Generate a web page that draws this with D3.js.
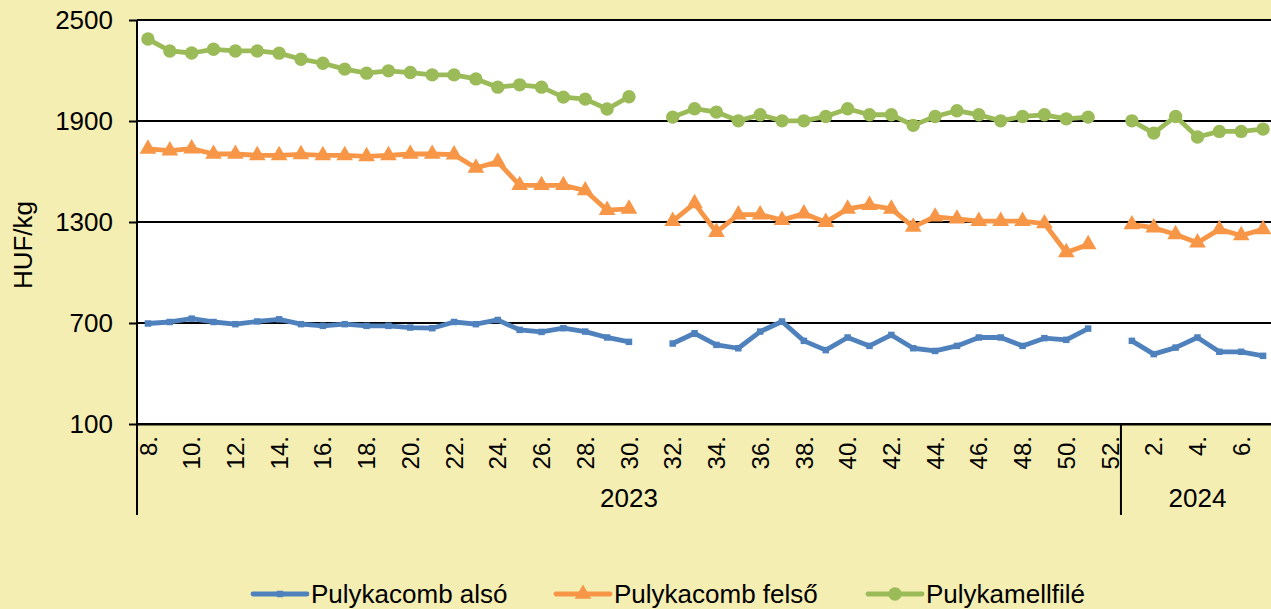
<!DOCTYPE html>
<html>
<head>
<meta charset="utf-8">
<script src="https://cdn.jsdelivr.net/npm/d3@7"></script>
<style>
  body { margin: 0; background: #f4eeb3; }
  svg { display: block; font-family: "Liberation Sans", Arial, sans-serif; }
</style>
</head>
<body>
<div id="chart"></div>
<script>
// weeks: 2023 week 8..52, then 2024 week 1..7
const weeks2023 = d3.range(8, 53);
const weeks2024 = d3.range(1, 8);

const also = [697, 706, 726, 706, 693, 709, 722, 693, 683, 693, 683, 683, 673, 669, 706, 693, 718, 659, 647, 669, 649, 614, 588, null,
  578, 639, 570, 550, 649, 709, 594, 539, 614, 564, 629, 550, 534, 564, 614, 614, 564, 610, 600, 667, null,
  594, 515, 554, 614, 529, 529, 505];
const felso = [1734, 1724, 1736, 1704, 1704, 1696, 1696, 1702, 1696, 1696, 1690, 1696, 1704, 1704, 1700, 1621, 1657, 1518, 1518, 1518, 1487, 1370, 1378, null,
  1305, 1410, 1240, 1344, 1344, 1311, 1350, 1299, 1378, 1400, 1378, 1271, 1331, 1319, 1305, 1305, 1305, 1291, 1119, 1167, null,
  1285, 1266, 1226, 1177, 1256, 1220, 1256];
const mellfile = [2387, 2316, 2304, 2326, 2316, 2316, 2303, 2267, 2243, 2208, 2184, 2198, 2188, 2174, 2174, 2150, 2101, 2115, 2101, 2042, 2030, 1971, 2044, null,
  1923, 1973, 1953, 1901, 1937, 1901, 1901, 1927, 1973, 1937, 1937, 1874, 1927, 1961, 1937, 1901, 1927, 1937, 1913, 1923, null,
  1901, 1828, 1927, 1805, 1838, 1838, 1852];

const yTicks = [100, 700, 1300, 1900, 2500];
const years = ['2023', '2024'];
const seriesNames = ['Pulykacomb alsó', 'Pulykacomb felső', 'Pulykamellfilé'];
const colors = ['#4f81bd', '#f79646', '#9bbb59'];

const categories = weeks2023.map(w => ({ key: '2023-' + w, week: w }))
  .concat(weeks2024.map(w => ({ key: '2024-' + w, week: w })));

const width = 1271;
const height = 609;
const margin = { top: 20, left: 137, bottomPlot: 424 };

const svg = d3.select('#chart')
  .append('svg')
  .attr('width', width)
  .attr('height', height);

const xScale = d3.scaleBand()
  .domain(categories.map(d => d.key))
  .range([margin.left, 1274]);
const yScale = d3.scaleLinear()
  .domain([100, 2500])
  .range([margin.bottomPlot, margin.top]);

// plot area
svg.append('rect')
  .attr('x', margin.left)
  .attr('y', margin.top)
  .attr('width', width - margin.left)
  .attr('height', margin.bottomPlot - margin.top)
  .attr('fill', '#fff');

// gridlines
svg.append('g')
  .selectAll('line')
  .data(yTicks)
  .enter()
  .append('line')
  .attr('x1', margin.left)
  .attr('x2', width)
  .attr('y1', d => yScale(d))
  .attr('y2', d => yScale(d))
  .attr('stroke', '#000')
  .attr('stroke-width', 2);

// y axis
const yAxis = d3.axisLeft(yScale)
  .tickValues(yTicks)
  .tickSize(8)
  .tickPadding(16)
  .tickFormat(d3.format('d'));

const yG = svg.append('g')
  .attr('transform', `translate(${margin.left},0)`)
  .call(yAxis);
yG.select('.domain').remove();
yG.selectAll('.tick line').attr('stroke', '#000').attr('stroke-width', 2);
yG.selectAll('.tick text')
  .attr('font-size', 26)
  .attr('fill', '#000')
  .attr('font-family', '"Liberation Sans", Arial, sans-serif');

// left axis line, extended down through the category area
svg.append('line')
  .attr('x1', margin.left).attr('x2', margin.left)
  .attr('y1', margin.top).attr('y2', 515)
  .attr('stroke', '#000').attr('stroke-width', 2);

// x axis
const xAxis = d3.axisBottom(xScale)
  .tickValues(categories.filter((d, i) => i % 2 === 0).map(d => d.key))
  .tickSize(0)
  .tickFormat(k => k.split('-')[1] + '.');

const xG = svg.append('g')
  .attr('transform', `translate(0,${margin.bottomPlot})`)
  .call(xAxis);
xG.select('.domain').attr('stroke', '#000').attr('stroke-width', 2);
xG.selectAll('.tick text')
  .attr('font-size', 24)
  .attr('fill', '#000')
  .attr('font-family', '"Liberation Sans", Arial, sans-serif')
  .attr('text-anchor', 'end')
  .attr('transform', 'rotate(-90)')
  .attr('x', -12)
  .attr('y', 0)
  .attr('dy', '0.36em');

// year separator and labels
const split = xScale('2024-1');
svg.append('line')
  .attr('x1', split).attr('x2', split)
  .attr('y1', margin.bottomPlot).attr('y2', 515)
  .attr('stroke', '#000').attr('stroke-width', 2);

const yearSpans = [[margin.left, split], [split, xScale.range()[1]]];
svg.selectAll('.year')
  .data(years)
  .enter()
  .append('text')
  .classed('year', true)
  .attr('x', (d, i) => (yearSpans[i][0] + yearSpans[i][1]) / 2)
  .attr('y', 507)
  .attr('text-anchor', 'middle')
  .attr('font-size', 26)
  .text(d => d);

// y label
svg.append('text')
  .attr('transform', 'translate(32,245) rotate(-90)')
  .attr('text-anchor', 'middle')
  .attr('font-size', 26)
  .text('HUF/kg');

// series
const xPos = i => xScale(categories[i].key) + xScale.bandwidth() / 2;
const line = d3.line()
  .defined(d => d != null)
  .x((d, i) => xPos(i))
  .y(d => yScale(d));

const allSeries = [also, felso, mellfile];
const symbols = [d3.symbolSquare, d3.symbolTriangle, d3.symbolCircle];
const symbolSizes = [42, 120, 140];

allSeries.forEach((vals, s) => {
  const g = svg.append('g');
  g.append('path')
    .datum(vals)
    .attr('fill', 'none')
    .attr('stroke', colors[s])
    .attr('stroke-width', 4.8)
    .attr('stroke-linejoin', 'round')
    .attr('d', line);
  g.selectAll('.pt')
    .data(vals.map((v, i) => ({ v, i })).filter(d => d.v != null))
    .enter()
    .append('path')
    .classed('pt', true)
    .attr('transform', d => `translate(${xPos(d.i)},${yScale(d.v)})`)
    .attr('d', d3.symbol().type(symbols[s]).size(symbolSizes[s]))
    .attr('fill', colors[s]);
});

// legend
const legendX = [253, 556, 868];
const legend = svg.append('g');
seriesNames.forEach((name, s) => {
  const lx = legendX[s];
  legend.append('line')
    .attr('x1', lx).attr('x2', lx + 54)
    .attr('y1', 594).attr('y2', 594)
    .attr('stroke', colors[s])
    .attr('stroke-width', 4.8)
    .attr('stroke-linecap', 'round');
  legend.append('path')
    .attr('transform', `translate(${lx + 27},594)`)
    .attr('d', d3.symbol().type(symbols[s]).size(symbolSizes[s]))
    .attr('fill', colors[s]);
  legend.append('text')
    .attr('x', lx + 58)
    .attr('y', 603)
    .attr('font-size', 26)
    .text(name);
});
</script>
</body>
</html>
